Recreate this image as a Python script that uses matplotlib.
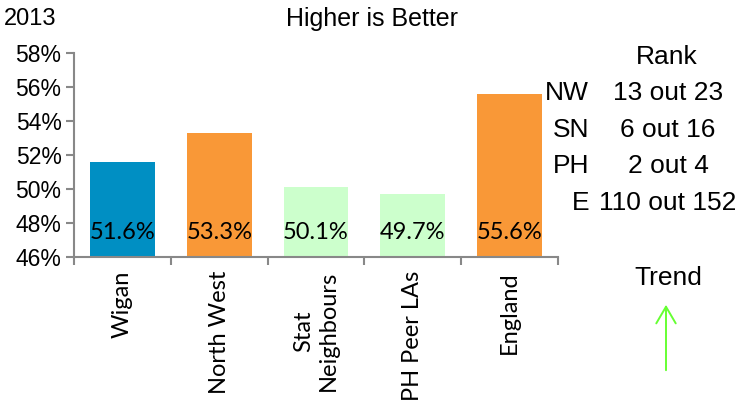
import numpy as np
from matplotlib import pyplot as plt

categories = ["Wigan", "North West", "Stat\nNeighbours", "PH Peer LAs", "England"]
values = [51.6, 53.3, 50.1, 49.7, 55.6]
bar_colours = ["#008FC3", "#F99837", "#CCFFCC", "#CCFFCC", "#F99837"]
value_labels = ["51.6%", "53.3%", "50.1%", "49.7%", "55.6%"]
yticks = [46, 48, 50, 52, 54, 56, 58]

rank_names = ["NW", "SN", "PH", "E"]
rank_values = ["13 out 23", "6 out 16", "2 out 4", "110 out 152"]

W, H = 740, 405
fig = plt.figure(figsize=(7.4, 4.05), dpi=100)
ax = fig.add_axes([74 / W, 1 - 257 / H, (558 - 74) / W, (257 - 53) / H])

ind = np.arange(len(categories))
ax.bar(ind, values, 0.67, color=bar_colours, bottom=0)
ax.set_ylim(46, 58)
ax.set_xlim(-0.5, len(categories) - 0.5)

for i, lab in enumerate(value_labels):
    ax.text(i, 47.45, lab, ha="center", va="center", fontsize=17, family="Lato")

ax.set_yticks(yticks)
ax.set_yticklabels([str(t) + "%" for t in yticks], fontsize=16.5, family="Liberation Sans")
ax.set_xticks(ind)
ax.set_xticklabels(categories, rotation=90, fontsize=17, family="Lato",
                   ha="center", va="top", multialignment="center")
ax.set_xticks(np.arange(-0.5, len(categories)), minor=True)
ax.tick_params(axis="x", which="major", length=0, pad=10)
ax.tick_params(axis="x", which="minor", length=6, width=1.5, color="#888888")
ax.tick_params(axis="y", length=6, width=1.5, color="#888888", pad=3)

for s in ["top", "right"]:
    ax.spines[s].set_visible(False)
for s in ["left", "bottom"]:
    ax.spines[s].set_color("#888888")
    ax.spines[s].set_linewidth(1.5)

def fx(x):
    return x / W

def fy(y):
    return 1 - y / H

fig.text(fx(4), fy(19), "2013", ha="left", va="center", fontsize=17, family="Liberation Sans")
fig.text(fx(372), fy(19), "Higher is Better", ha="center", va="center", fontsize=18, family="Liberation Sans")

fig.text(fx(667), fy(57), "Rank", ha="center", va="center", fontsize=19, family="Liberation Sans")
row_y = [93, 130, 166, 203]
for name, val, y in zip(rank_names, rank_values, row_y):
    fig.text(fx(589), fy(y), name, ha="right", va="center", fontsize=19, family="Liberation Sans")
    fig.text(fx(668), fy(y), val, ha="center", va="center", fontsize=19, family="Liberation Sans")

fig.text(fx(668), fy(278), "Trend", ha="center", va="center", fontsize=19, family="Liberation Sans")
fig.add_artist(plt.matplotlib.patches.FancyArrowPatch(
    (fx(666), fy(373)), (fx(666), fy(302)), transform=fig.transFigure,
    arrowstyle="->,head_length=12,head_width=7", color="#66FF33", lw=1.4))

fig.savefig("out.png", dpi=100)
